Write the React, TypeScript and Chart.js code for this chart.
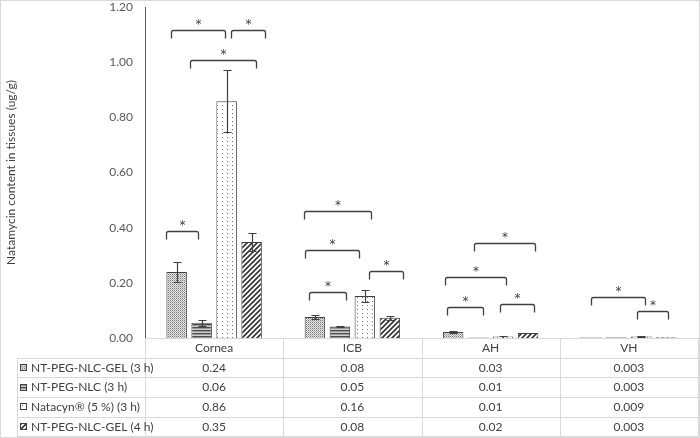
import React, { useEffect, useRef } from 'react';
import { Chart, registerables } from 'chart.js';

Chart.register(...registerables);

// ---------- data ----------
const categories = ['Cornea', 'ICB', 'AH', 'VH'];
const seriesLabels = ['NT-PEG-NLC-GEL (3 h)', 'NT-PEG-NLC (3 h)', 'Natacyn® (5 %) (3 h)', 'NT-PEG-NLC-GEL (4 h)'];

const gel3h = [0.239, 0.076, 0.022, 0.003];
const nlc3h = [0.055, 0.042, 0.002, 0.003];
const natacyn3h = [0.858, 0.152, 0.005, 0.005];
const gel4h = [0.348, 0.073, 0.018, 0.003];

const gel3hErr = [0.036, 0.008, 0.004, 0];
const nlc3hErr = [0.01, 0.003, 0, 0];
const natacyn3hErr = [0.112, 0.023, 0.004, 0.003];
const gel4hErr = [0.033, 0.007, 0, 0];

const gel3hTable = ['0.24', '0.08', '0.03', '0.003'];
const nlc3hTable = ['0.06', '0.05', '0.01', '0.003'];
const natacyn3hTable = ['0.86', '0.16', '0.01', '0.009'];
const gel4hTable = ['0.35', '0.08', '0.02', '0.003'];

const yMin = 0;
const yMax = 1.2;
const yStep = 0.2;
const yTitle = 'Natamycin content in tissues (ug/g)';

// significance brackets: category, from / to (series slot), level (ug/g), mark
const bracketCategory = [0, 0, 0, 0, 1, 1, 1, 1, 2, 2, 2, 2, 3, 3];
const bracketFrom = [-0.22, 2.18, 0.54, -0.42, -0.44, -0.4, -0.24, 2.16, 0.84, -0.32, -0.24, 1.88, 0.0, 1.84];
const bracketTo = [1.94, 3.54, 3.18, 0.86, 2.24, 1.76, 1.24, 3.52, 3.28, 2.12, 1.2, 3.24, 2.16, 3.08];
const bracketLevel = [1.116, 1.116, 1.007, 0.388, 0.46, 0.319, 0.167, 0.243, 0.344, 0.221, 0.112, 0.123, 0.149, 0.098];
const bracketMark = ['*', '*', '*', '*', '*', '*', '*', '*', '*', '*', '*', '*', '*', '*'];

const seriesValues = [gel3h, nlc3h, natacyn3h, gel4h];
const seriesErrors = [gel3hErr, nlc3hErr, natacyn3hErr, gel4hErr];
const seriesTable = [gel3hTable, nlc3hTable, natacyn3hTable, gel4hTable];

// ---------- styles ----------
const FONT = 'Lato, "Liberation Sans", sans-serif';
const TEXT = '#404040';
const GRID = '#d9d9d9';
const DARK = '#404040';

function makePattern(kind: string): CanvasPattern | string {
  const c = document.createElement('canvas');
  let w = 4, h = 4;
  if (kind === 'dense') { w = 2; h = 2; }
  if (kind === 'hlines') { w = 3; h = 3; }
  if (kind === 'sparse') { w = 5; h = 4; }
  if (kind === 'diag') { w = 5; h = 5; }
  c.width = w; c.height = h;
  const g = c.getContext('2d')!;
  if (kind === 'dense') {
    g.fillStyle = '#e4e4e4'; g.fillRect(0, 0, w, h);
    g.fillStyle = '#7a7a7a'; g.fillRect(0, 0, 1, 1);
    g.fillStyle = '#b4b4b4'; g.fillRect(1, 1, 1, 1);
  } else if (kind === 'hlines') {
    g.fillStyle = '#d0d0d0'; g.fillRect(0, 0, w, h);
    g.fillStyle = '#4a4a4a'; g.fillRect(0, 0, w, 1);
    g.fillStyle = '#9a9a9a'; g.fillRect(0, 1, w, 1);
  } else if (kind === 'sparse') {
    g.fillStyle = '#ffffff'; g.fillRect(0, 0, w, h);
    g.fillStyle = '#707070'; g.fillRect(2, 1, 1, 1);
  } else {
    g.fillStyle = '#ffffff'; g.fillRect(0, 0, w, h);
    g.strokeStyle = '#333333'; g.lineWidth = 1.6;
    g.beginPath();
    g.moveTo(-1, h + 1); g.lineTo(w + 1, -1);
    g.moveTo(-1 - w, h + 1); g.lineTo(1, -1);
    g.moveTo(w - 1, h + 1); g.lineTo(2 * w + 1, -1);
    g.stroke();
  }
  const p = g.createPattern(c, 'repeat');
  return p || '#999';
}

const overlayPlugin = {
  id: 'overlay',
  afterDatasetsDraw(chart: any) {
    const ctx: CanvasRenderingContext2D = chart.ctx;
    const ys = chart.scales.y;
    ctx.save();
    // error bars
    ctx.strokeStyle = DARK;
    ctx.lineWidth = 1.2;
    chart.data.datasets.forEach((ds: any, di: number) => {
      const meta = chart.getDatasetMeta(di);
      meta.data.forEach((el: any, i: number) => {
        const e = seriesErrors[di][i];
        if (!e) return;
        const v = ds.data[i];
        const x = Math.round(el.x) + 0.5;
        const yt = Math.round(ys.getPixelForValue(v + e)) + 0.5;
        const yb = Math.round(ys.getPixelForValue(Math.max(0, v - e))) + 0.5;
        ctx.beginPath();
        ctx.moveTo(x, yt); ctx.lineTo(x, yb);
        ctx.moveTo(x - 4, yt); ctx.lineTo(x + 4, yt);
        ctx.moveTo(x - 4, yb); ctx.lineTo(x + 4, yb);
        ctx.stroke();
      });
    });
    // significance brackets
    const m0 = chart.getDatasetMeta(0);
    const m1 = chart.getDatasetMeta(1);
    ctx.lineWidth = 1.3;
    ctx.font = '12px "DejaVu Sans", sans-serif';
    ctx.fillStyle = DARK;
    ctx.textAlign = 'center';
    ctx.textBaseline = 'middle';
    bracketCategory.forEach((c, k) => {
      const x0 = m0.data[c].x;
      const slot = m1.data[c].x - x0;
      const xa = Math.round(x0 + bracketFrom[k] * slot) + 0.5;
      const xb = Math.round(x0 + bracketTo[k] * slot) + 0.5;
      const y = Math.round(ys.getPixelForValue(bracketLevel[k])) + 0.5;
      const drop = 8;
      ctx.beginPath();
      ctx.moveTo(xa, y + drop);
      ctx.lineTo(xa, y + 2);
      ctx.quadraticCurveTo(xa, y, xa + 2, y);
      ctx.lineTo(xb - 2, y);
      ctx.quadraticCurveTo(xb, y, xb, y + 2);
      ctx.lineTo(xb, y + drop);
      ctx.stroke();
      ctx.fillText(bracketMark[k], (xa + xb) / 2, y - 6);
    });
    ctx.restore();
  },
  afterDraw(chart: any) {
    const ctx: CanvasRenderingContext2D = chart.ctx;
    const area = chart.chartArea;
    const left = area.left;
    const right = area.right;
    const top = area.bottom;
    const colW = (right - left) / categories.length;
    const headerH = 19.5;
    const rowH = 19.7;
    const tableLeft = 17;
    const rows = seriesLabels.length;
    const tableBottom = top + headerH + rows * rowH;
    ctx.save();
    ctx.strokeStyle = GRID;
    ctx.lineWidth = 1;
    // outer frame of chart
    ctx.strokeRect(0.5, 0.5, chart.width - 1, chart.height - 1);
    const hl = (y: number, x1: number, x2: number) => {
      const yy = Math.round(y) + 0.5;
      ctx.beginPath(); ctx.moveTo(x1, yy); ctx.lineTo(x2, yy); ctx.stroke();
    };
    const vl = (x: number, y1: number, y2: number) => {
      const xx = Math.round(x) + 0.5;
      ctx.beginPath(); ctx.moveTo(xx, y1); ctx.lineTo(xx, y2); ctx.stroke();
    };
    hl(top, left, right);
    for (let r = 0; r <= rows; r++) hl(top + headerH + r * rowH, tableLeft, right);
    for (let k = 0; k <= categories.length; k++) vl(left + k * colW, top, tableBottom);
    vl(tableLeft, top + headerH, tableBottom);

    ctx.font = `12px ${FONT}`;
    ctx.fillStyle = TEXT;
    ctx.textBaseline = 'middle';
    ctx.textAlign = 'center';
    categories.forEach((c, k) => ctx.fillText(c, left + (k + 0.5) * colW, top + headerH / 2 + 0.5));
    for (let r = 0; r < rows; r++) {
      const cy = top + headerH + (r + 0.5) * rowH + 0.5;
      // legend key
      const ds = chart.data.datasets[r];
      ctx.fillStyle = ds.backgroundColor;
      ctx.fillRect(20, Math.round(cy) - 4, 7, 7);
      ctx.strokeStyle = DARK;
      ctx.strokeRect(20.5, Math.round(cy) - 3.5, 6, 6);
      ctx.fillStyle = TEXT;
      ctx.textAlign = 'left';
      ctx.fillText(seriesLabels[r], 31, cy);
      ctx.textAlign = 'center';
      seriesTable[r].forEach((t, k) => ctx.fillText(t, left + (k + 0.5) * colW, cy));
    }
    ctx.restore();
  },
};

export default function App() {
  const ref = useRef<HTMLCanvasElement | null>(null);
  useEffect(() => {
    document.body.style.margin = '0';
    const canvas = ref.current!;
    const patterns = [makePattern('dense'), makePattern('hlines'), makePattern('sparse'), makePattern('diag')];
    const chart = new Chart(canvas, {
      type: 'bar',
      data: {
        labels: categories,
        datasets: seriesValues.map((vals, i) => ({
          label: seriesLabels[i],
          data: vals,
          backgroundColor: patterns[i] as any,
          borderColor: DARK,
          borderWidth: 1,
          categoryPercentage: 0.723,
          barPercentage: 0.82,
        })),
      },
      options: {
        responsive: false,
        animation: false,
        devicePixelRatio: 1,
        layout: { padding: { top: 7, bottom: 100, left: 0, right: 2 } },
        plugins: { legend: { display: false }, tooltip: { enabled: false } },
        scales: {
          x: { display: false },
          y: {
            min: yMin,
            max: yMax,
            border: { display: true, color: '#595959', width: 1 },
            grid: { display: false, drawTicks: false },
            ticks: {
              stepSize: yStep,
              padding: 12,
              color: '#595959',
              font: { family: FONT, size: 12 },
              callback: (v: any) => Number(v).toFixed(2),
            },
            title: {
              display: true,
              text: yTitle,
              color: '#404040',
              font: { family: FONT, size: 12 },
              padding: { top: 4, bottom: 0 },
            },
            afterFit: (s: any) => {
              s.width = 145;
              s.paddingTop = 0;
              s.paddingBottom = 0;
            },
          },
        },
      },
      plugins: [overlayPlugin],
    });
    return () => chart.destroy();
  }, []);
  return (
    <div style={{ position: 'fixed', left: 0, top: 0, width: 700, height: 438 }}>
      <canvas ref={ref} width={700} height={438} />
    </div>
  );
}
